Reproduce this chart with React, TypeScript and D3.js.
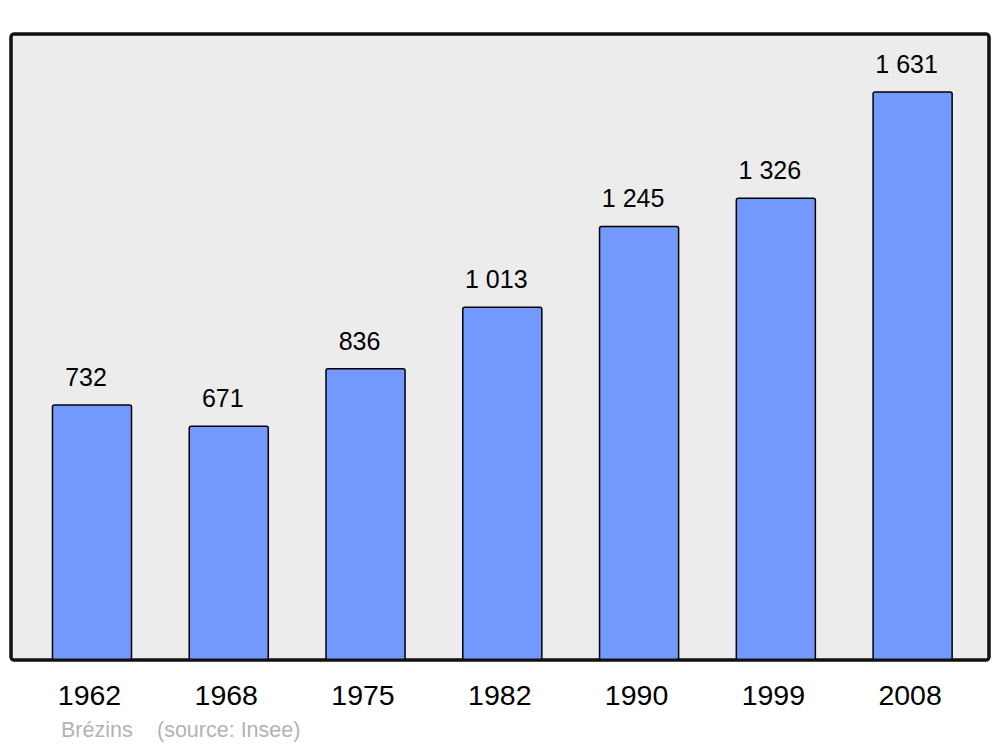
import React from "react";
import * as d3 from "d3";

const years = ["1962", "1968", "1975", "1982", "1990", "1999", "2008"];
const population = [732, 671, 836, 1013, 1245, 1326, 1631];
const townName = "Brézins";
const sourceText = "(source: Insee)";

export default function App() {
  const W = 1000, H = 747;
  const x = d3.scaleBand<string>().domain(years).range([23.6, 981]).paddingInner(0.422).paddingOuter(0.211);
  const y = d3.scaleLinear().domain([0, 1631]).range([660, 92]);
  const fmt = (v: number) => d3.format(",")(v).replace(/,/g, " ");
  const font = "'Liberation Sans', Arial, sans-serif";
  return (
    <svg width={W} height={H} style={{ position: "absolute", left: 0, top: 0 }} fontFamily={font}>
      <rect x={0} y={0} width={W} height={H} fill="#ffffff" />
      <rect x={11} y={34} width={978} height={626} rx={3} fill="#ececec" stroke="#111" strokeWidth={3} />
      {years.map((yr, i) => {
        const bx = x(yr)!;
        const bw = x.bandwidth();
        const top = y(population[i]);
        return (
          <g key={yr}>
            <rect x={bx} y={top} width={bw} height={y(0) - top} rx={2} fill="#7399ff" stroke="#000" strokeWidth={1.5} />
            <text x={bx + bw / 2 - 6} y={top - 19} textAnchor="middle" fontSize={25} fill="#000">{fmt(population[i])}</text>
            <text x={bx + bw / 2 - 2.5} y={705} textAnchor="middle" fontSize={28.5} fill="#000">{yr}</text>
          </g>
        );
      })}
      <rect x={11} y={34} width={978} height={626} rx={3} fill="none" stroke="#111" strokeWidth={3} />
      <text x={61} y={737} fontSize={21.5} fill="#b3b3b3">{townName}</text>
      <text x={157} y={737} fontSize={21.5} fill="#b3b3b3">{sourceText}</text>
    </svg>
  );
}
